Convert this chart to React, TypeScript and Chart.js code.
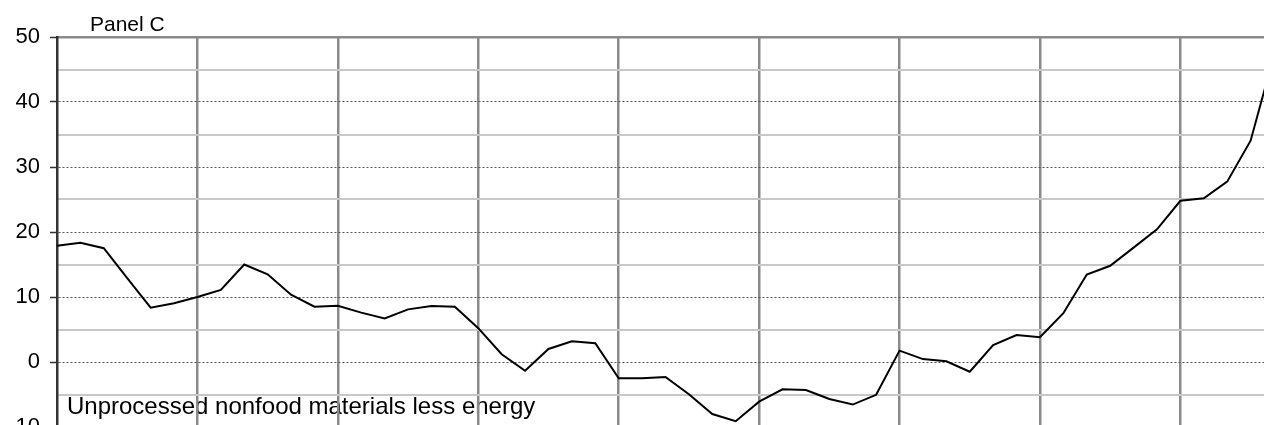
import React, { useEffect, useRef } from "react";
import { Chart, registerables } from "chart.js";

Chart.register(...registerables);

const periods = [
  "1", "2", "3", "4", "5", "6", "7", "8", "9", "10",
  "11", "12", "13", "14", "15", "16", "17", "18", "19", "20",
  "21", "22", "23", "24", "25", "26", "27", "28", "29", "30",
  "31", "32", "33", "34", "35", "36", "37", "38", "39", "40",
  "41", "42", "43", "44", "45", "46", "47", "48", "49", "50",
  "51", "52", "53",
];

const values = [
  17.9, 18.35, 17.5, 12.9, 8.35, 9.05, 10.0, 11.1, 15.0, 13.5,
  10.35, 8.5, 8.65, 7.6, 6.7, 8.1, 8.6, 8.5, 5.2, 1.2,
  -1.35, 2.0, 3.2, 2.9, -2.5, -2.5, -2.3, -4.95, -8.0, -9.1,
  -6.1, -4.2, -4.3, -5.7, -6.55, -5.05, 1.75, 0.45, 0.1, -1.5,
  2.6, 4.15, 3.8, 7.5, 13.45, 14.8, 17.6, 20.4, 24.8, 25.2,
  27.75, 34.05, 47.2,
];

const yMin = -10;
const yMax = 50;
const majorStep = 10;
const minorStep = 5;
const periodsPerGrid = 6;

const panelTitle = "Panel C";
const seriesName = "Unprocessed nonfood materials less energy";

const FONT = '"Liberation Sans", Arial, Helvetica, sans-serif';

const textPlugin = {
  id: "panelText",
  beforeDraw(chart: any) {
    const ctx = chart.ctx;
    ctx.save();
    ctx.fillStyle = "#000";
    ctx.textBaseline = "alphabetic";
    ctx.textAlign = "left";
    ctx.font = `21px ${FONT}`;
    ctx.fillText(panelTitle, 90, 31);
    ctx.font = `24px ${FONT}`;
    ctx.fillText(seriesName, 67, 414);
    ctx.restore();
  },
};

export default function App() {
  const ref = useRef<HTMLCanvasElement | null>(null);

  useEffect(() => {
    if (!ref.current) return;
    const chart = new Chart(ref.current, {
      type: "line",
      data: {
        labels: periods,
        datasets: [
          {
            label: seriesName,
            data: values,
            borderColor: "#000",
            borderWidth: 2,
            pointRadius: 0,
            tension: 0,
            fill: false,
          },
        ],
      },
      options: {
        animation: false,
        responsive: false,
        devicePixelRatio: 1,
        layout: { padding: { top: 37, right: 6, bottom: 33, left: 0 } },
        plugins: {
          legend: { display: false },
          title: { display: false },
          tooltip: { enabled: false },
        },
        scales: {
          x: {
            type: "category",
            offset: false,
            ticks: { display: false, autoSkip: false },
            border: { display: false },
            grid: {
              drawTicks: false,
              color: (c: any) =>
                c.index > 0 && c.index % periodsPerGrid === 0 ? "#8a8a8a" : "rgba(0,0,0,0)",
              lineWidth: 2.5,
            },
          },
          yMinor: {
            type: "linear",
            position: "left",
            min: yMin,
            max: yMax,
            ticks: { display: false, stepSize: minorStep },
            border: { display: false },
            grid: {
              drawTicks: false,
              color: (c: any) => {
                const v = c.tick ? c.tick.value : 0;
                if (v === yMax) return "#8a8a8a";
                if (v % majorStep === 0) return "rgba(0,0,0,0)";
                return "#c8c8c8";
              },
              lineWidth: (c: any) => (c.tick && c.tick.value === yMax ? 2.5 : 2),
            },
            afterFit: (s: any) => {
              s.width = 0;
            },
          },
          y: {
            type: "linear",
            position: "left",
            min: yMin,
            max: yMax,
            ticks: {
              stepSize: majorStep,
              color: "#000",
              padding: 10,
              font: { family: FONT, size: 22 },
            },
            border: { display: true, color: "#333", width: 2.5, dash: (c: any) => (c.type === "tick" ? [2, 2] : []) },
            grid: {
              color: (c: any) => (c.tick && c.tick.value === yMax ? "rgba(0,0,0,0)" : "#555"),
              lineWidth: 1,
              tickLength: 7,
              tickColor: "#333",
              tickWidth: 1.5,
              tickBorderDash: [],
            },
            afterFit: (s: any) => {
              s.width = 57;
            },
          },
        },
      },
      plugins: [textPlugin],
    } as any);
    return () => chart.destroy();
  }, []);

  return (
    <div
      style={{
        position: "fixed",
        left: 0,
        top: 0,
        width: 1264,
        height: 425,
        overflow: "hidden",
        background: "#fff",
      }}
    >
      <canvas ref={ref} width={1280} height={460} style={{ display: "block" }} />
    </div>
  );
}
